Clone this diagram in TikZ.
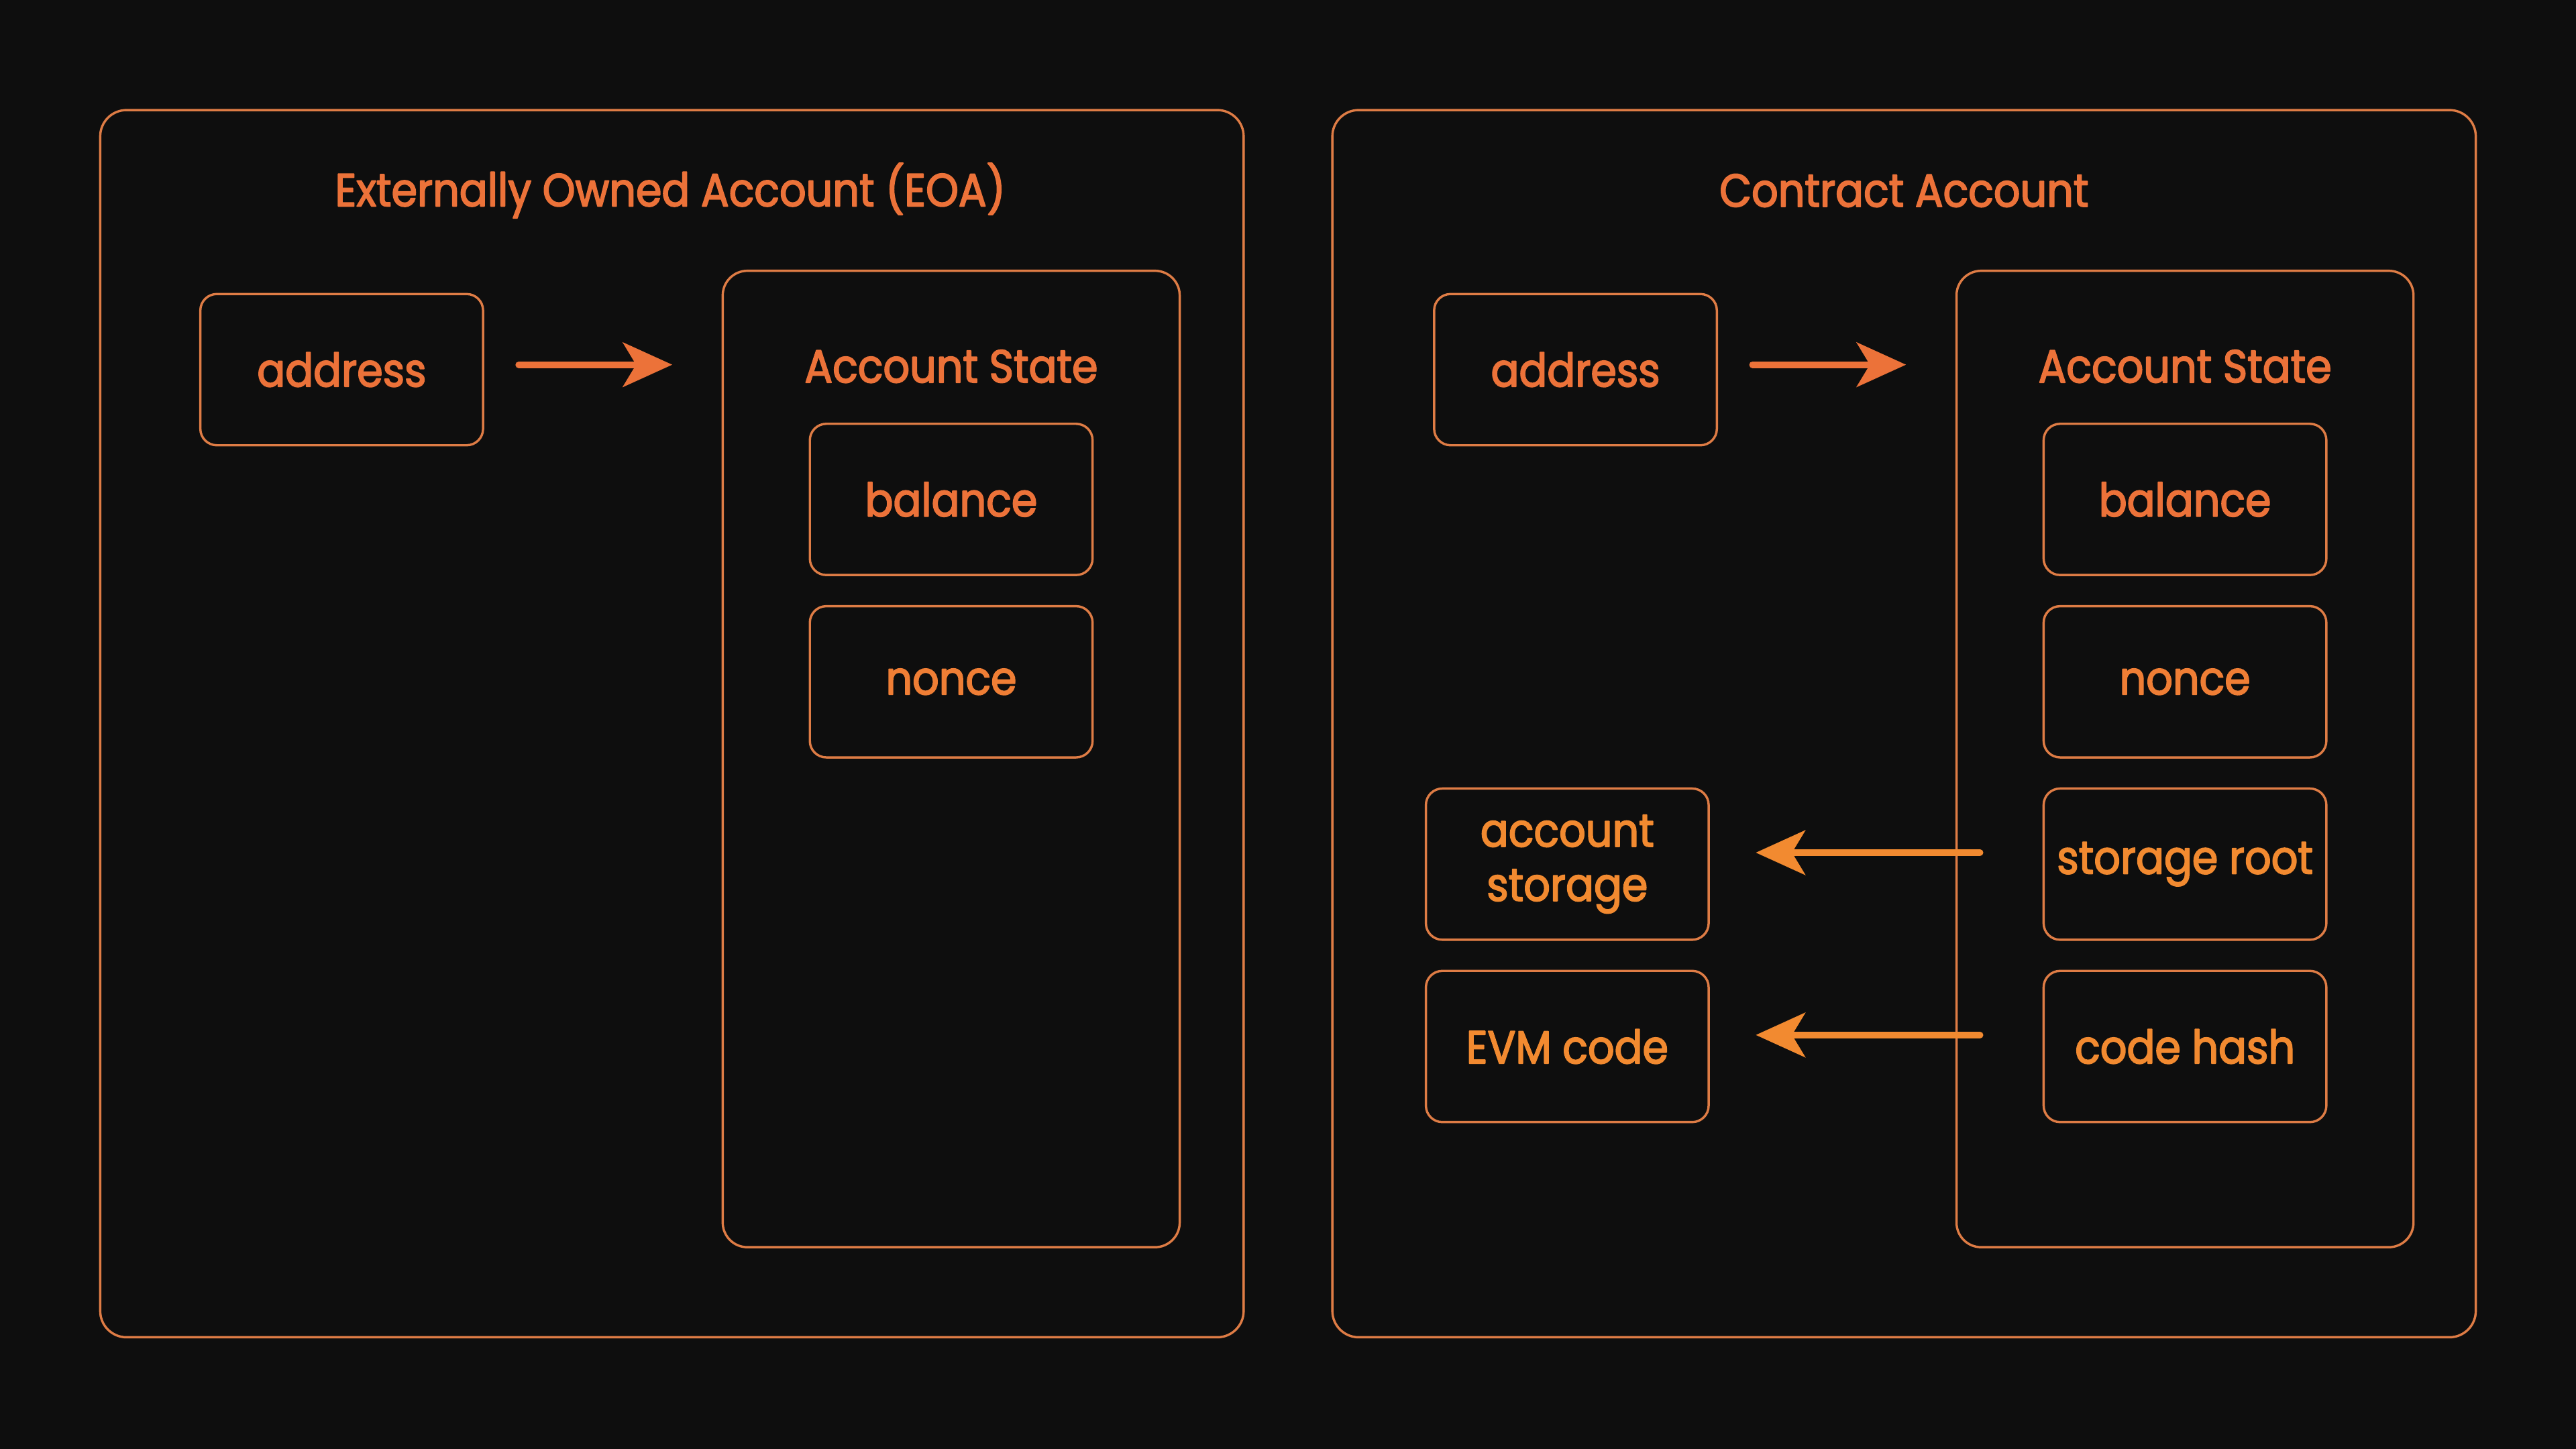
\documentclass[tikz,border=0pt]{standalone}
\usepackage{fontspec}
\setmainfont{Poppins}[FakeStretch=0.9,FakeBold=2.6]
\usetikzlibrary{arrows.meta}
\definecolor{bgdark}{HTML}{0E0E0E}
\definecolor{edgeorange}{HTML}{DE7C45}
\definecolor{toporange}{HTML}{EC7239}
\definecolor{midorange}{HTML}{EF7E35}
\definecolor{loworange}{HTML}{F28A30}

\tikzset{
  panel/.style={draw=edgeorange,line width=0.4pt,rounded corners=0.16cm},
  statebox/.style={draw=edgeorange,line width=0.4pt,rounded corners=0.15cm,
    minimum width=2.78cm,minimum height=5.94cm},
  field/.style={draw=edgeorange,line width=0.4pt,rounded corners=0.1cm,
    minimum width=1.72cm,minimum height=0.92cm,inner sep=1pt,align=center,
    font=\fontsize{8pt}{9.4pt}\selectfont},
  heading/.style={font=\fontsize{8pt}{9.4pt}\selectfont,text=toporange},
  flow/.style={->,line width=1.15pt}
}

\begin{document}
\begin{tikzpicture}[line cap=round,line join=round,
  >={Stealth[length=0.3cm,width=0.27cm,inset=0.08cm]},x=0.01cm,y=-0.01cm]
\fill[bgdark] (0,0) rectangle (1568,882);
%
% externally owned account
\draw[panel] (61,67) rectangle (757,814);
\node[heading] (eoaTitle) at (408,116) {Externally Owned Account (EOA)};
\node[field,text=toporange] (eoaAddr) at (208,225) {address};
\node[statebox] (eoaState) at (579,462) {};
\node[heading] (eoaStateTitle) at (579,223) {Account State};
\node[field,text=toporange] (eoaBal) at (579,304) {balance};
\node[field,text=midorange] (eoaNonce) at (579,415) {nonce};
\draw[flow,draw=toporange,fill=toporange,shorten <=0.21cm,shorten >=0.3cm]
  ([yshift=0.03cm]eoaAddr.east) -- ([yshift=0.03cm]eoaAddr.east -| eoaState.west);
%
% contract account
\draw[panel] (811,67) rectangle (1507,814);
\node[heading] (caTitle) at (1159,116) {Contract Account};
\node[field,text=toporange] (caAddr) at (959,225) {address};
\node[statebox] (caState) at (1330,462) {};
\node[heading] (caStateTitle) at (1330,223) {Account State};
\node[field,text=toporange] (caBal) at (1330,304) {balance};
\node[field,text=midorange] (caNonce) at (1330,415) {nonce};
\node[field,text=loworange] (caRoot) at (1330,526) {storage root};
\node[field,text=loworange] (caHash) at (1330,637) {code hash};
\node[field,text=loworange] (caStore) at (954,526) {account\\storage};
\node[field,text=loworange] (caCode) at (954,637) {EVM code};
\draw[flow,draw=toporange,fill=toporange,shorten <=0.21cm,shorten >=0.3cm]
  ([yshift=0.03cm]caAddr.east) -- ([yshift=0.03cm]caAddr.east -| caState.west);
\draw[flow,draw=loworange,fill=loworange,shorten <=0.38cm,shorten >=0.28cm]
  ([yshift=0.07cm]caRoot.west) -- ([yshift=0.07cm]caStore.east);
\draw[flow,draw=loworange,fill=loworange,shorten <=0.38cm,shorten >=0.28cm]
  ([yshift=0.07cm]caHash.west) -- ([yshift=0.07cm]caCode.east);
\end{tikzpicture}
\end{document}
